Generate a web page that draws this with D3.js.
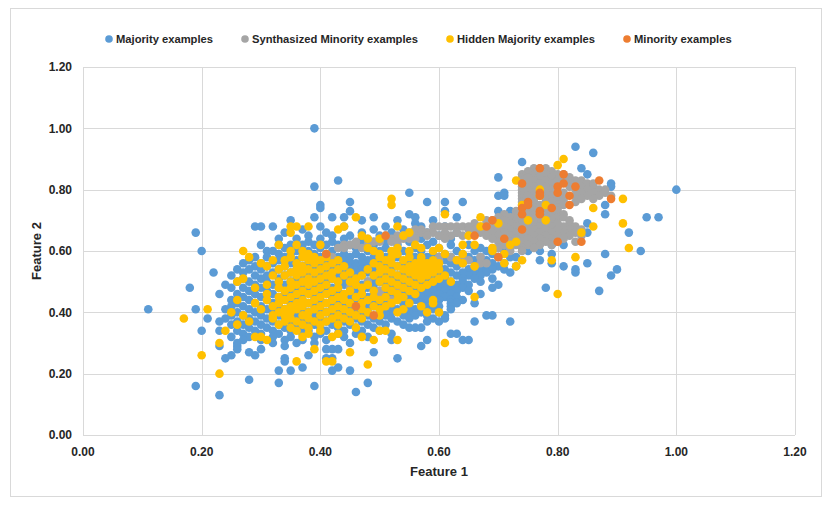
<!DOCTYPE html>
<html>
<head>
<meta charset="utf-8">
<script src="https://cdn.jsdelivr.net/npm/d3@7"></script>
<style>
  body { margin: 0; background: #fff; }
  text { font-family: "Liberation Sans", Arial, sans-serif; font-weight: bold; fill: #262626; }
</style>
</head>
<body>
<div id="chart"></div>
<script>
// rows of [feature2, [feature1 values]]
const majorityRows = [
  [1.00, [0.39]],
  [0.94, [0.83]],
  [0.92, [0.86]],
  [0.89, [0.74]],
  [0.87, [0.84]],
  [0.85, [0.85]],
  [0.84, [0.70]],
  [0.83, [0.43]],
  [0.82, [0.89]],
  [0.81, [0.39, 0.89]],
  [0.80, [1.00]],
  [0.79, [0.55, 0.71]],
  [0.78, [0.70, 0.71]],
  [0.76, [0.45, 0.58, 0.61, 0.64]],
  [0.75, [0.40, 0.88]],
  [0.74, [0.40]],
  [0.73, [0.45, 0.61, 0.70, 0.72]],
  [0.72, [0.55, 0.88]],
  [0.71, [0.39, 0.42, 0.44, 0.49, 0.56, 0.63, 0.95, 0.97]],
  [0.70, [0.35, 0.47, 0.53, 0.59]],
  [0.69, [0.56, 0.85]],
  [0.68, [0.29, 0.30, 0.32, 0.40, 0.44, 0.51, 0.57, 0.61]],
  [0.67, [0.37, 0.49, 0.54, 0.77]],
  [0.66, [0.19, 0.34, 0.41, 0.47, 0.52, 0.58, 0.63, 0.85, 0.92]],
  [0.65, [0.38, 0.42, 0.45, 0.50, 0.55, 0.60]],
  [0.64, [0.33, 0.36, 0.40, 0.44, 0.47, 0.53, 0.57, 0.62]],
  [0.63, [0.38, 0.42, 0.49, 0.51, 0.55, 0.59]],
  [0.62, [0.30, 0.33, 0.35, 0.37, 0.39, 0.41, 0.43, 0.45, 0.47, 0.49, 0.53, 0.58, 0.62, 0.65, 0.79, 0.81]],
  [0.61, [0.34, 0.40, 0.44, 0.46, 0.51, 0.56, 0.60, 0.67, 0.70]],
  [0.60, [0.20, 0.31, 0.32, 0.36, 0.38, 0.42, 0.48, 0.50, 0.54, 0.57, 0.63, 0.66, 0.68, 0.71, 0.75, 0.77, 0.94]],
  [0.59, [0.33, 0.35, 0.39, 0.41, 0.44, 0.46, 0.52, 0.55, 0.59, 0.61, 0.64, 0.69, 0.79, 0.88]],
  [0.58, [0.29, 0.31, 0.34, 0.37, 0.40, 0.43, 0.45, 0.47, 0.49, 0.51, 0.53, 0.56, 0.58, 0.60, 0.62, 0.65, 0.67, 0.70, 0.72, 0.73]],
  [0.57, [0.28, 0.33, 0.36, 0.39, 0.42, 0.44, 0.48, 0.50, 0.55, 0.61, 0.63, 0.66, 0.68, 0.77]],
  [0.56, [0.27, 0.30, 0.32, 0.35, 0.38, 0.41, 0.45, 0.46, 0.47, 0.49, 0.52, 0.54, 0.57, 0.59, 0.62, 0.64, 0.69, 0.71, 0.79, 0.85]],
  [0.55, [0.29, 0.31, 0.34, 0.37, 0.40, 0.43, 0.46, 0.48, 0.51, 0.53, 0.56, 0.58, 0.60, 0.63, 0.66, 0.68, 0.70, 0.73, 0.81]],
  [0.54, [0.26, 0.28, 0.30, 0.33, 0.36, 0.39, 0.42, 0.45, 0.47, 0.49, 0.50, 0.52, 0.55, 0.57, 0.59, 0.61, 0.65, 0.67, 0.69, 0.71, 0.83, 0.90]],
  [0.53, [0.22, 0.27, 0.32, 0.35, 0.38, 0.41, 0.44, 0.46, 0.48, 0.51, 0.54, 0.56, 0.58, 0.62, 0.64, 0.66, 0.68, 0.72, 0.83]],
  [0.52, [0.25, 0.29, 0.31, 0.34, 0.37, 0.40, 0.43, 0.45, 0.47, 0.50, 0.53, 0.55, 0.57, 0.60, 0.63, 0.65, 0.67, 0.89]],
  [0.51, [0.27, 0.30, 0.33, 0.36, 0.39, 0.42, 0.44, 0.46, 0.49, 0.52, 0.54, 0.56, 0.59, 0.61, 0.64, 0.66, 0.69]],
  [0.50, [0.26, 0.28, 0.31, 0.35, 0.38, 0.41, 0.43, 0.45, 0.48, 0.50, 0.53, 0.55, 0.58, 0.60, 0.62, 0.64, 0.67]],
  [0.49, [0.24, 0.29, 0.32, 0.34, 0.37, 0.40, 0.44, 0.47, 0.49, 0.51, 0.54, 0.57, 0.59, 0.61, 0.63, 0.65, 0.70]],
  [0.48, [0.18, 0.25, 0.27, 0.30, 0.33, 0.36, 0.39, 0.42, 0.45, 0.46, 0.48, 0.52, 0.55, 0.56, 0.58, 0.60, 0.62, 0.64, 0.69, 0.78]],
  [0.47, [0.28, 0.31, 0.35, 0.38, 0.41, 0.43, 0.47, 0.50, 0.53, 0.57, 0.59, 0.61, 0.63, 0.65, 0.87]],
  [0.46, [0.23, 0.26, 0.29, 0.32, 0.34, 0.37, 0.40, 0.44, 0.46, 0.49, 0.51, 0.54, 0.56, 0.58, 0.60, 0.62, 0.67]],
  [0.45, [0.27, 0.30, 0.33, 0.36, 0.39, 0.42, 0.45, 0.48, 0.50, 0.52, 0.55, 0.57, 0.59, 0.61, 0.63]],
  [0.44, [0.25, 0.28, 0.31, 0.34, 0.37, 0.40, 0.43, 0.46, 0.47, 0.49, 0.51, 0.53, 0.56, 0.58, 0.60, 0.62, 0.64]],
  [0.43, [0.26, 0.29, 0.32, 0.35, 0.38, 0.41, 0.44, 0.48, 0.50, 0.54, 0.57, 0.59, 0.62, 0.63, 0.66]],
  [0.42, [0.25, 0.27, 0.30, 0.33, 0.36, 0.39, 0.42, 0.45, 0.47, 0.49, 0.52, 0.55, 0.58, 0.60, 0.62]],
  [0.41, [0.11, 0.19, 0.24, 0.28, 0.31, 0.34, 0.37, 0.40, 0.43, 0.46, 0.48, 0.51, 0.53, 0.56, 0.59, 0.62]],
  [0.40, [0.26, 0.29, 0.32, 0.35, 0.38, 0.41, 0.44, 0.47, 0.50, 0.52, 0.55, 0.57, 0.60]],
  [0.39, [0.25, 0.27, 0.30, 0.33, 0.36, 0.39, 0.42, 0.45, 0.48, 0.51, 0.54, 0.56, 0.58, 0.61, 0.68, 0.69]],
  [0.38, [0.21, 0.24, 0.28, 0.31, 0.34, 0.37, 0.40, 0.43, 0.46, 0.49, 0.52, 0.55, 0.59, 0.61]],
  [0.37, [0.23, 0.26, 0.29, 0.32, 0.35, 0.38, 0.41, 0.44, 0.47, 0.50, 0.53, 0.58, 0.60, 0.66, 0.72]],
  [0.36, [0.25, 0.27, 0.30, 0.33, 0.36, 0.39, 0.42, 0.45, 0.48, 0.51, 0.54]],
  [0.35, [0.28, 0.31, 0.34, 0.37, 0.40, 0.43, 0.46, 0.49, 0.55, 0.56, 0.57]],
  [0.34, [0.20, 0.23, 0.26, 0.29, 0.32, 0.35, 0.38, 0.41, 0.44, 0.47, 0.50]],
  [0.33, [0.27, 0.30, 0.33, 0.37, 0.40, 0.43, 0.46, 0.52, 0.62, 0.63]],
  [0.32, [0.25, 0.28, 0.32, 0.35, 0.39, 0.44, 0.48]],
  [0.31, [0.27, 0.30, 0.34, 0.37, 0.41, 0.52, 0.58, 0.64, 0.65]],
  [0.30, [0.26, 0.32, 0.36, 0.39, 0.45]],
  [0.29, [0.23, 0.26, 0.34, 0.57]],
  [0.28, [0.26, 0.30, 0.41, 0.42, 0.43]],
  [0.27, [0.28, 0.49]],
  [0.26, [0.25, 0.29, 0.38]],
  [0.25, [0.24, 0.34, 0.41, 0.42, 0.53]],
  [0.24, [0.34]],
  [0.22, [0.37, 0.43]],
  [0.21, [0.33, 0.35, 0.42, 0.45]],
  [0.18, [0.28]],
  [0.17, [0.33, 0.48]],
  [0.16, [0.19, 0.39]],
  [0.14, [0.46]],
  [0.13, [0.23]]
];

const syntheticRows = [
  [0.87, [0.76, 0.77, 0.78]],
  [0.86, [0.75, 0.77, 0.79]],
  [0.85, [0.74, 0.76, 0.78, 0.80, 0.81]],
  [0.84, [0.74, 0.75, 0.77, 0.79, 0.81, 0.82]],
  [0.83, [0.74, 0.76, 0.78, 0.80, 0.83, 0.84]],
  [0.82, [0.74, 0.75, 0.77, 0.79, 0.82, 0.85, 0.86]],
  [0.81, [0.74, 0.76, 0.78, 0.80, 0.82, 0.84, 0.86]],
  [0.80, [0.74, 0.75, 0.77, 0.79, 0.83, 0.85, 0.87, 0.88]],
  [0.79, [0.74, 0.76, 0.78, 0.81, 0.84, 0.86, 0.88]],
  [0.78, [0.74, 0.75, 0.79, 0.80, 0.83, 0.85, 0.87, 0.89]],
  [0.77, [0.74, 0.76, 0.78, 0.80, 0.81, 0.84, 0.86]],
  [0.76, [0.74, 0.76, 0.78, 0.79, 0.81, 0.83]],
  [0.75, [0.74, 0.75, 0.77, 0.80, 0.81]],
  [0.74, [0.75, 0.76, 0.78, 0.80]],
  [0.73, [0.73, 0.75, 0.76, 0.78, 0.80]],
  [0.72, [0.71, 0.73, 0.75, 0.76, 0.78, 0.79, 0.81]],
  [0.71, [0.70, 0.72, 0.74, 0.76, 0.78, 0.80, 0.81]],
  [0.70, [0.68, 0.69, 0.71, 0.73, 0.75, 0.77, 0.79, 0.82]],
  [0.69, [0.66, 0.68, 0.70, 0.72, 0.74, 0.76, 0.78, 0.80, 0.82]],
  [0.68, [0.59, 0.60, 0.61, 0.62, 0.63, 0.64, 0.65, 0.67, 0.69, 0.71, 0.73, 0.75, 0.77, 0.79, 0.81, 0.83]],
  [0.67, [0.56, 0.57, 0.65, 0.66, 0.68, 0.70, 0.72, 0.74, 0.76, 0.78, 0.80, 0.82, 0.84]],
  [0.66, [0.55, 0.57, 0.58, 0.59, 0.61, 0.63, 0.67, 0.69, 0.71, 0.73, 0.75, 0.77, 0.79, 0.81, 0.83]],
  [0.65, [0.51, 0.53, 0.54, 0.56, 0.58, 0.60, 0.62, 0.64, 0.68, 0.70, 0.72, 0.74, 0.76, 0.78, 0.80, 0.82, 0.84]],
  [0.64, [0.48, 0.50, 0.52, 0.54, 0.55, 0.56, 0.61, 0.69, 0.71, 0.73, 0.75, 0.77, 0.79, 0.81]],
  [0.63, [0.46, 0.49, 0.50, 0.52, 0.53, 0.70, 0.72, 0.74, 0.76, 0.78, 0.80, 0.83]],
  [0.62, [0.44, 0.45, 0.46, 0.48, 0.71, 0.73, 0.75, 0.77, 0.79]],
  [0.61, [0.43, 0.44, 0.47, 0.69, 0.70, 0.72, 0.74, 0.76]],
  [0.60, [0.72, 0.74]],
  [0.58, [0.42, 0.60, 0.62, 0.64, 0.67]],
  [0.57, [0.60, 0.65]],
  [0.56, [0.67, 0.68]],
  [0.55, [0.66]],
  [0.50, [0.48]],
  [0.49, [0.48]],
  [0.48, [0.45]],
  [0.47, [0.45, 0.50, 0.53]],
  [0.46, [0.50]],
  [0.44, [0.52]]
];

const hiddenRows = [
  [0.90, [0.81]],
  [0.88, [0.80]],
  [0.83, [0.73]],
  [0.80, [0.77]],
  [0.78, [0.77]],
  [0.77, [0.52, 0.91]],
  [0.75, [0.52, 0.74, 0.78]],
  [0.74, [0.86]],
  [0.72, [0.61]],
  [0.71, [0.46, 0.67]],
  [0.70, [0.75, 0.78]],
  [0.69, [0.70, 0.91]],
  [0.68, [0.35, 0.36, 0.38, 0.44, 0.53, 0.67, 0.86]],
  [0.67, [0.43]],
  [0.66, [0.35, 0.55, 0.84]],
  [0.65, [0.47, 0.54, 0.65]],
  [0.64, [0.48, 0.50]],
  [0.63, [0.73]],
  [0.62, [0.33, 0.36, 0.40, 0.56, 0.64, 0.66, 0.72]],
  [0.61, [0.48, 0.53, 0.57, 0.60, 0.69, 0.92]],
  [0.60, [0.27, 0.35, 0.37, 0.49, 0.52, 0.55, 0.59, 0.69]],
  [0.59, [0.38, 0.41, 0.50, 0.53, 0.61, 0.64, 0.71]],
  [0.58, [0.28, 0.35, 0.37, 0.39, 0.41, 0.50, 0.52, 0.55, 0.57, 0.83]],
  [0.57, [0.32, 0.34, 0.38, 0.40, 0.43, 0.51, 0.54, 0.57, 0.59, 0.63, 0.74, 0.79]],
  [0.56, [0.30, 0.36, 0.39, 0.42, 0.49, 0.52, 0.56, 0.58, 0.60, 0.64, 0.71]],
  [0.55, [0.31, 0.34, 0.37, 0.41, 0.44, 0.50, 0.53, 0.55, 0.57, 0.59, 0.66, 0.73]],
  [0.54, [0.33, 0.36, 0.38, 0.40, 0.43, 0.48, 0.51, 0.54, 0.56, 0.58, 0.60]],
  [0.53, [0.35, 0.37, 0.39, 0.42, 0.45, 0.50, 0.52, 0.55, 0.57, 0.59]],
  [0.52, [0.32, 0.34, 0.36, 0.41, 0.44, 0.47, 0.49, 0.53, 0.56, 0.58, 0.61]],
  [0.51, [0.27, 0.38, 0.40, 0.42, 0.46, 0.51, 0.54, 0.57, 0.60]],
  [0.50, [0.26, 0.33, 0.35, 0.37, 0.39, 0.43, 0.45, 0.50, 0.52, 0.55, 0.59, 0.62]],
  [0.49, [0.31, 0.36, 0.38, 0.41, 0.46, 0.48, 0.53, 0.56, 0.58]],
  [0.48, [0.29, 0.33, 0.35, 0.40, 0.43, 0.47, 0.51, 0.54, 0.57]],
  [0.47, [0.34, 0.37, 0.39, 0.42, 0.45, 0.49, 0.52, 0.55]],
  [0.46, [0.31, 0.36, 0.38, 0.41, 0.44, 0.47, 0.53, 0.56, 0.80]],
  [0.45, [0.33, 0.35, 0.40, 0.43, 0.46, 0.49, 0.51, 0.54, 0.66]],
  [0.44, [0.26, 0.31, 0.34, 0.37, 0.39, 0.42, 0.44, 0.48, 0.50, 0.53, 0.59]],
  [0.43, [0.29, 0.33, 0.36, 0.38, 0.41, 0.45, 0.47, 0.52, 0.55, 0.59]],
  [0.42, [0.32, 0.35, 0.37, 0.40, 0.43, 0.46, 0.49, 0.51, 0.57]],
  [0.41, [0.21, 0.30, 0.34, 0.36, 0.39, 0.42, 0.44, 0.47, 0.50, 0.54]],
  [0.40, [0.25, 0.33, 0.35, 0.38, 0.41, 0.45, 0.48, 0.53, 0.58, 0.60]],
  [0.39, [0.27, 0.32, 0.34, 0.37, 0.40, 0.43, 0.46, 0.50]],
  [0.38, [0.17, 0.32, 0.35, 0.38, 0.42, 0.44, 0.47]],
  [0.37, [0.28, 0.34, 0.36, 0.39, 0.41, 0.45]],
  [0.36, [0.26, 0.33, 0.37, 0.40, 0.43]],
  [0.35, [0.35, 0.38, 0.46]],
  [0.34, [0.24, 0.36, 0.40, 0.50, 0.51]],
  [0.33, [0.38, 0.43]],
  [0.32, [0.29, 0.30, 0.37, 0.42, 0.47]],
  [0.31, [0.31, 0.49, 0.53]],
  [0.30, [0.23, 0.61]],
  [0.28, [0.39]],
  [0.27, [0.45]],
  [0.26, [0.20]],
  [0.24, [0.36, 0.41, 0.42]],
  [0.23, [0.48]],
  [0.20, [0.23]]
];

// [feature1, feature2]
const minorityPoints = [
  [0.77, 0.87], [0.81, 0.85], [0.74, 0.82], [0.80, 0.81], [0.81, 0.82], [0.83, 0.81],
  [0.87, 0.83], [0.77, 0.79], [0.77, 0.78], [0.80, 0.79], [0.82, 0.78], [0.75, 0.76],
  [0.89, 0.77], [0.74, 0.74], [0.74, 0.72], [0.77, 0.73], [0.77, 0.72], [0.79, 0.74],
  [0.82, 0.75], [0.75, 0.75], [0.69, 0.70], [0.68, 0.68], [0.74, 0.67], [0.66, 0.65],
  [0.71, 0.64], [0.80, 0.63], [0.84, 0.63], [0.70, 0.58], [0.51, 0.65], [0.41, 0.59],
  [0.46, 0.42], [0.49, 0.39]
];

const xTicks = [0, 0.2, 0.4, 0.6, 0.8, 1.0, 1.2];
const yTicks = [0, 0.2, 0.4, 0.6, 0.8, 1.0, 1.2];

const width = 830;
const height = 516;

const toPoints = rows => rows.flatMap(([y, xs]) => xs.map(x => [x, y]));

// drawn in this order, same order in the legend
const series = [
  { name: "Majority examples", color: "#5B9BD5", points: toPoints(majorityRows) },
  { name: "Synthasized Minority examples", color: "#A5A5A5", points: toPoints(syntheticRows) },
  { name: "Hidden Majority examples", color: "#FFC000", points: toPoints(hiddenRows) },
  { name: "Minority examples", color: "#ED7D31", points: minorityPoints }
];

const svg = d3.select("#chart")
  .append("svg")
  .attr("width", width)
  .attr("height", height);

// chart border
svg.append("rect")
  .attr("x", 10.5).attr("y", 8.5)
  .attr("width", 811).attr("height", 488)
  .attr("fill", "#fff")
  .attr("stroke", "#d9d9d9");

const x = d3.scaleLinear().domain([0, 1.2]).range([83, 795]);
const y = d3.scaleLinear().domain([0, 1.2]).range([435, 67]);

// gridlines
svg.append("g")
  .selectAll("line")
  .data(yTicks)
  .enter()
  .append("line")
  .attr("x1", x(0)).attr("x2", x(1.2))
  .attr("y1", d => Math.round(y(d)) + 0.5)
  .attr("y2", d => Math.round(y(d)) + 0.5)
  .attr("stroke", "#d9d9d9");

svg.append("g")
  .selectAll("line")
  .data(xTicks)
  .enter()
  .append("line")
  .attr("y1", y(0)).attr("y2", y(1.2))
  .attr("x1", d => Math.round(x(d)) + 0.5)
  .attr("x2", d => Math.round(x(d)) + 0.5)
  .attr("stroke", "#d9d9d9");

// tick labels
svg.append("g")
  .selectAll("text")
  .data(yTicks)
  .enter()
  .append("text")
  .attr("x", 72)
  .attr("y", d => y(d))
  .attr("dy", "0.35em")
  .attr("text-anchor", "end")
  .attr("font-size", 12)
  .text(d3.format(".2f"));

svg.append("g")
  .selectAll("text")
  .data(xTicks)
  .enter()
  .append("text")
  .attr("x", d => x(d))
  .attr("y", 456)
  .attr("text-anchor", "middle")
  .attr("font-size", 12)
  .text(d3.format(".2f"));

// axis titles
svg.append("text")
  .attr("x", x(0.6))
  .attr("y", 476)
  .attr("text-anchor", "middle")
  .attr("font-size", 13)
  .text("Feature 1");

svg.append("text")
  .attr("transform", `translate(41,${y(0.6)}) rotate(-90)`)
  .attr("text-anchor", "middle")
  .attr("font-size", 13)
  .text("Feature 2");

// points
series.forEach(s => {
  svg.append("g")
    .selectAll("circle")
    .data(s.points)
    .enter()
    .append("circle")
    .attr("cx", d => x(d[0]))
    .attr("cy", d => y(d[1]))
    .attr("r", 4.3)
    .attr("fill", s.color);
});

// legend
const legendX = [109, 245, 450, 627];
const legend = svg.append("g")
  .selectAll("g")
  .data(series)
  .enter()
  .append("g")
  .attr("transform", (d, i) => `translate(${legendX[i]},39)`);

legend.append("circle")
  .attr("r", 3.8)
  .attr("fill", d => d.color);

legend.append("text")
  .attr("x", 7)
  .attr("dy", "0.35em")
  .attr("font-size", 11.2)
  .text(d => d.name);
</script>
</body>
</html>
